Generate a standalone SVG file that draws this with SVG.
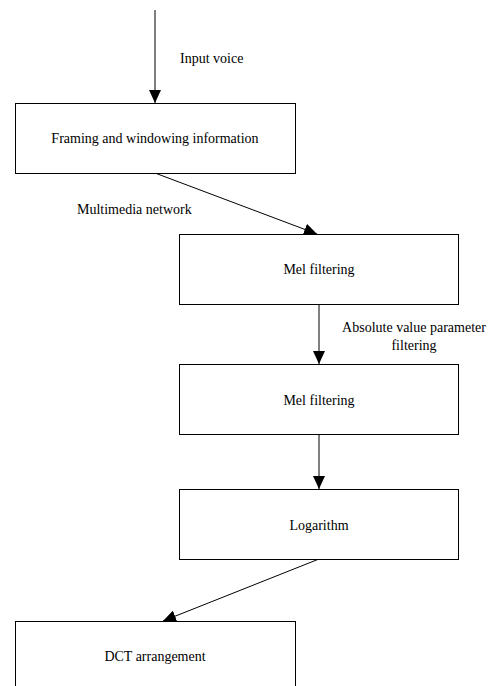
<svg xmlns="http://www.w3.org/2000/svg" width="496" height="686" viewBox="0 0 496 686">
<style>
.box{fill:#fff;stroke:#000;stroke-width:1}
.t{font-family:"Liberation Serif","Times New Roman","DejaVu Serif",serif;font-size:14px;fill:#000}
.c{text-anchor:middle}
.ln{stroke:#000;stroke-width:1;fill:none}
</style>
<defs>
<marker id="ah" markerWidth="13" markerHeight="12" refX="13" refY="6" orient="auto" markerUnits="userSpaceOnUse" viewBox="0 0 13 12">
<path d="M0,0 L13,6 L0,12 Z" fill="#000"/>
</marker>
</defs>
<rect width="496" height="686" fill="#fff"/>
<g id="connectors">
<line class="ln" x1="155" y1="10" x2="155" y2="103" marker-end="url(#ah)"/>
<line class="ln" x1="155" y1="173" x2="317" y2="234" marker-end="url(#ah)"/>
<line class="ln" x1="319" y1="304" x2="319" y2="364" marker-end="url(#ah)"/>
<line class="ln" x1="319" y1="434" x2="319" y2="489" marker-end="url(#ah)"/>
<line class="ln" x1="319" y1="559" x2="163" y2="621" marker-end="url(#ah)"/>
<text class="t" x="180" y="63">Input voice</text>
<text class="t" x="77" y="214">Multimedia network</text>
<text class="t c" x="414" y="332">Absolute value parameter</text>
<text class="t c" x="414" y="350">filtering</text>
</g>
<g id="node1">
<rect class="box" x="15.5" y="103.5" width="280" height="70"/>
<text class="t c" x="155" y="143">Framing and windowing information</text>
</g>
<g id="node2">
<rect class="box" x="179.5" y="234.5" width="279" height="70"/>
<text class="t c" x="319" y="274">Mel filtering</text>
</g>
<g id="node3">
<rect class="box" x="179.5" y="364.5" width="279" height="70"/>
<text class="t c" x="319" y="405">Mel filtering</text>
</g>
<g id="node4">
<rect class="box" x="179.5" y="489.5" width="279" height="70"/>
<text class="t c" x="319" y="530">Logarithm</text>
</g>
<g id="node5">
<rect class="box" x="15.5" y="621.5" width="280" height="75"/>
<text class="t c" x="155" y="661">DCT arrangement</text>
</g>
</svg>
